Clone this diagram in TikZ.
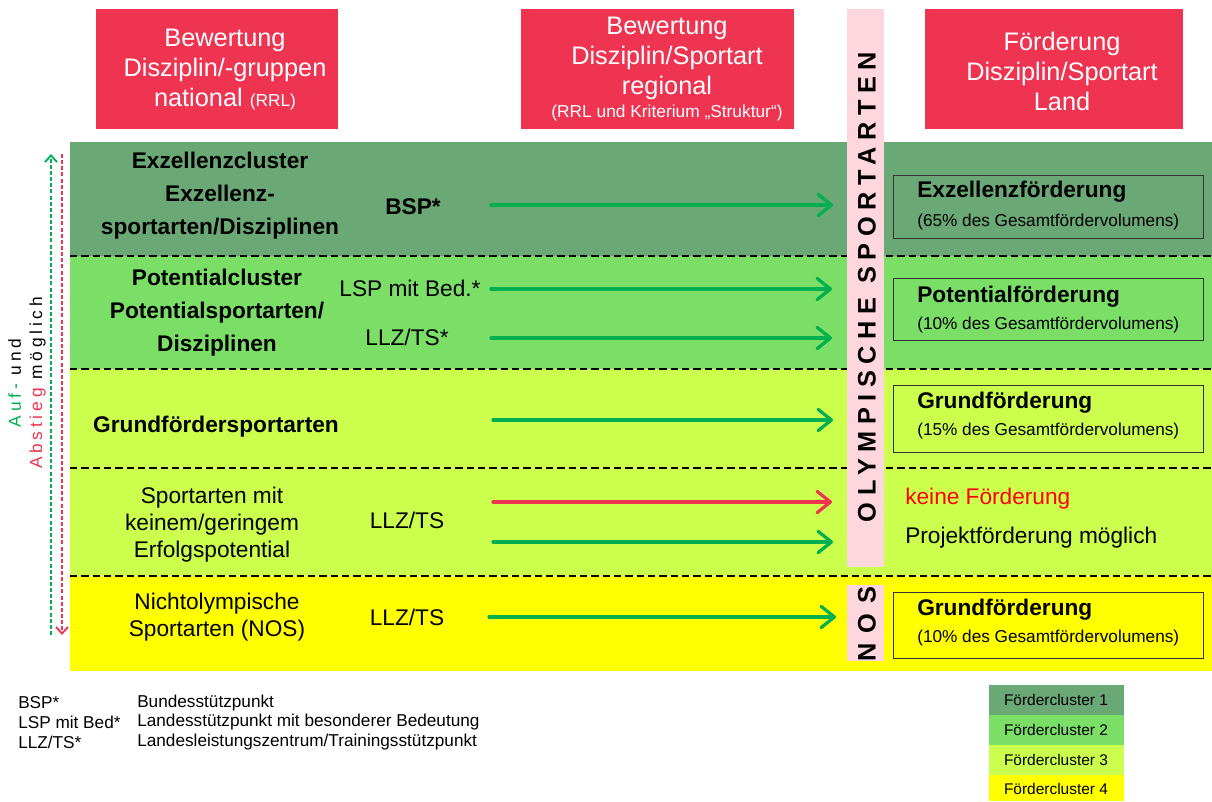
\documentclass[tikz,border=0pt]{standalone}
\usepackage{fontspec}
\setmainfont{Liberation Sans}
\usetikzlibrary{arrows.meta}
\definecolor{hdr}{RGB}{238,52,80}
\definecolor{cA}{RGB}{106,168,117}
\definecolor{cB}{RGB}{123,222,103}
\definecolor{cC}{RGB}{204,255,77}
\definecolor{cD}{RGB}{255,255,0}
\definecolor{pinkc}{RGB}{253,214,222}
\definecolor{agreen}{RGB}{0,176,80}
\definecolor{ared}{RGB}{238,52,80}
\definecolor{kred}{RGB}{255,0,0}
\tikzset{
  hdrtext/.style={text=white, align=center, inner sep=0pt, font=\fontsize{19}{22.5}\selectfont},
  hdrsmall/.style={text=white, align=center, inner sep=0pt, font=\fontsize{13}{15}\selectfont},
  rowbold/.style={align=center, inner sep=0pt, font=\fontsize{17}{24.75}\selectfont\bfseries},
  rowplain/.style={align=center, inner sep=0pt, font=\fontsize{17}{20.25}\selectfont},
  fbtitle/.style={anchor=west, inner sep=0pt, font=\fontsize{17}{20}\selectfont\bfseries},
  fbsub/.style={anchor=west, inner sep=0pt, font=\fontsize{12.9}{15}\selectfont},
  fbbox/.style={draw=black!80, line width=0.6pt},
  sepline/.style={black, line width=2pt, dash pattern=on 5.5pt off 3pt},
  garrow/.style={draw=agreen, line width=2.4pt, line cap=round, -{Straight Barb[length=10pt,width=16pt,round]}},
  rarrow/.style={draw=ared, line width=2.4pt, line cap=round, -{Straight Barb[length=10pt,width=16pt,round]}},
  updown/.style={line width=1.4pt, dash pattern=on 3pt off 1.6pt, -{Straight Barb[length=5pt,width=9pt]}},
  vtext/.style={rotate=90, inner sep=0pt, font=\fontsize{19}{19}\selectfont\bfseries\addfontfeature{LetterSpace=26}},
  legtext/.style={anchor=west, inner sep=0pt, font=\fontsize{12.9}{15}\selectfont},
  cltext/.style={inner sep=0pt, font=\fontsize{11.6}{14}\selectfont},
}
\begin{document}
\begin{tikzpicture}[x=0.75pt,y=-0.75pt]
\useasboundingbox (0,0) rectangle (1212,801);

% header boxes
\fill[hdr] (96,9) rectangle (338,129);
\fill[hdr] (521,9) rectangle (794,129);
\fill[hdr] (925,9) rectangle (1183,129);
\node[hdrtext] (h1) at (225,70) {Bewertung\\Disziplin/-gruppen\\national {\fontsize{13}{15}\selectfont(RRL)}};
\node[hdrtext] (h2) at (667,58) {Bewertung\\Disziplin/Sportart\\regional};
\node[hdrsmall] (h2s) at (667,113) {(RRL und Kriterium „Struktur“)};
\node[hdrtext] (h3) at (1062,71) {Förderung\\Disziplin/Sportart\\Land};

% bands
\fill[cA] (70,142) rectangle (1212,256);
\fill[cB] (70,256) rectangle (1212,369);
\fill[cC] (70,369) rectangle (1212,576);
\fill[cD] (70,576) rectangle (1212,671);

% separators
\coordinate (s1a) at (70,256); \coordinate (s1b) at (1212,256);
\coordinate (s2a) at (70,369); \coordinate (s2b) at (1212,369);
\coordinate (s3a) at (70,468); \coordinate (s3b) at (1212,468);
\coordinate (s4a) at (70,576); \coordinate (s4b) at (1212,576);
\draw[sepline] (s1a) -- (s1b);
\draw[sepline] (s2a) -- (s2b);
\draw[sepline] (s3a) -- (s3b);
\draw[sepline] (s4a) -- (s4b);

% pink strips
\fill[pinkc] (847,9) rectangle (884,567);
\fill[pinkc] (847,585) rectangle (884,661);
\node[vtext] (olym) at (867,287) {OLYMPISCHE SPORTARTEN};
\node[vtext, font=\fontsize{19}{19}\selectfont\bfseries\addfontfeature{LetterSpace=40}] (nos) at (867,624) {NOS};

% left column
\node[rowbold] (r1) at (220,196) {Exzellenzcluster\\Exzellenz-\\sportarten/Disziplinen};
\node[rowbold] (r2) at (217,313) {Potentialcluster\\Potentialsportarten/\\Disziplinen};
\node[rowbold] (r3) at (216,427) {Grundfördersportarten};
\node[rowplain] (r4) at (212,525) {Sportarten mit\\keinem/geringem\\Erfolgspotential};
\node[rowplain] (r5) at (217,617) {Nichtolympische\\Sportarten (NOS)};

% middle labels
\node[rowbold] (m1) at (413,207) {BSP*};
\node[rowplain] (m2) at (410,288) {LSP mit Bed.*};
\node[rowplain] (m3) at (407,337) {LLZ/TS*};
\node[rowplain] (m4) at (407,520) {LLZ/TS};
\node[rowplain] (m5) at (407,617) {LLZ/TS};

% arrows
\coordinate (a1s) at (491,205); \coordinate (a1e) at (833,205);
\coordinate (a2s) at (491,289); \coordinate (a2e) at (832,289);
\coordinate (a3s) at (491,338); \coordinate (a3e) at (832,338);
\coordinate (a4s) at (493,420); \coordinate (a4e) at (833,420);
\coordinate (a5s) at (493,502); \coordinate (a5e) at (832,502);
\coordinate (a6s) at (493,542); \coordinate (a6e) at (833,542);
\coordinate (a7s) at (489,617); \coordinate (a7e) at (836,617);
\draw[garrow] (a1s) -- (a1e);
\draw[garrow] (a2s) -- (a2e);
\draw[garrow] (a3s) -- (a3e);
\draw[garrow] (a4s) -- (a4e);
\draw[rarrow] (a5s) -- (a5e);
\draw[garrow] (a6s) -- (a6e);
\draw[garrow] (a7s) -- (a7e);

% right boxes
\draw[fbbox] (893,175) rectangle (1203,238);
\node[fbtitle] (f1) at (917,192) {Exzellenzförderung};
\node[fbsub] (f1s) at (917,222) {(65\% des Gesamtfördervolumens)};
\draw[fbbox] (893,278) rectangle (1203,340);
\node[fbtitle] (f2) at (917,297) {Potentialförderung};
\node[fbsub] (f2s) at (917,325) {(10\% des Gesamtfördervolumens)};
\draw[fbbox] (893,385) rectangle (1203,452);
\node[fbtitle] (f3) at (917,403) {Grundförderung};
\node[fbsub] (f3s) at (917,431) {(15\% des Gesamtfördervolumens)};
\node[anchor=west, inner sep=0pt, font=\fontsize{17}{20}\selectfont, text=kred] (f4) at (905,499) {keine Förderung};
\node[anchor=west, inner sep=0pt, font=\fontsize{17}{20}\selectfont] (f4b) at (905,538) {Projektförderung möglich};
\draw[fbbox] (893,592) rectangle (1203,658);
\node[fbtitle] (f5) at (917,610) {Grundförderung};
\node[fbsub] (f5s) at (917,638) {(10\% des Gesamtfördervolumens)};

% up/down arrows
\coordinate (gb) at (51,635); \coordinate (gt) at (51,154);
\coordinate (rt) at (62,154); \coordinate (rb) at (62,635);
\draw[updown, agreen] (gb) -- (gt);
\draw[updown, ared] (rt) -- (rb);
\node[rotate=90, inner sep=0pt, align=center, font=\fontsize{13}{16}\selectfont\addfontfeature{LetterSpace=22}] (aufab) at (27,383)
  {{\color{agreen}Auf-} und\\{\color{ared}Abstieg} möglich};

% legend left
\node[legtext] (l1a) at (18,703) {BSP*};
\node[legtext] (l1b) at (137,703) {Bundesstützpunkt};
\node[legtext] (l2a) at (18,722) {LSP mit Bed*};
\node[legtext] (l2b) at (137,722) {Landesstützpunkt mit besonderer Bedeutung};
\node[legtext] (l3a) at (18,742) {LLZ/TS*};
\node[legtext] (l3b) at (137,742) {Landesleistungszentrum/Trainingsstützpunkt};

% legend right
\fill[cA] (989,685) rectangle (1124,715);
\fill[cB] (989,715) rectangle (1124,745);
\fill[cC] (989,745) rectangle (1124,775);
\fill[cD] (989,775) rectangle (1124,801);
\node[cltext] (k1) at (1056,700) {Fördercluster 1};
\node[cltext] (k2) at (1056,730) {Fördercluster 2};
\node[cltext] (k3) at (1056,760) {Fördercluster 3};
\node[cltext] (k4) at (1056,789) {Fördercluster 4};
\end{tikzpicture}
\end{document}
